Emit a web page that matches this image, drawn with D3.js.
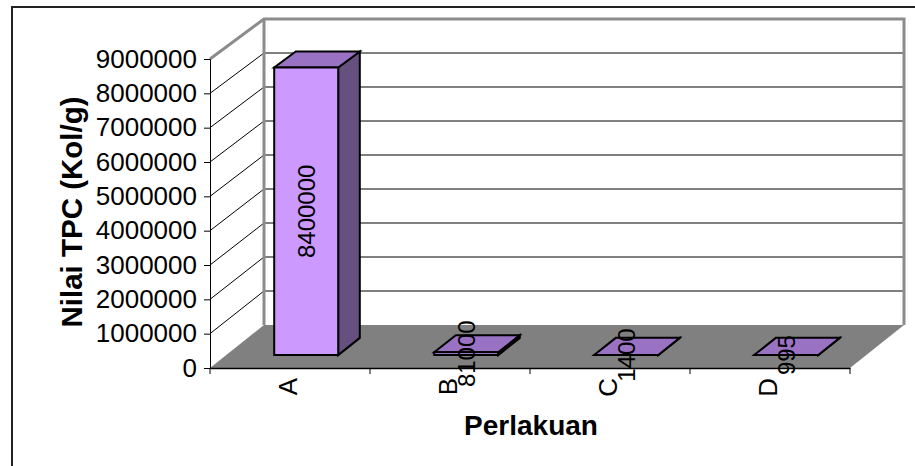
<!DOCTYPE html>
<html>
<head>
<meta charset="utf-8">
<script src="https://cdn.jsdelivr.net/npm/d3@7"></script>
<style>
  html, body { margin: 0; padding: 0; background: #fff; }
  svg { display: block; font-family: Arial, "Liberation Sans", sans-serif; }
</style>
</head>
<body>
<svg id="chart" width="915" height="466"></svg>
<script>
// ---- data ----
const categories = ["A", "B", "C", "D"];
const values = [8400000, 81000, 1400, 995];
const valueLabels = ["8400000", "81000", "1400", "995"];
const yTickValues = [0, 1000000, 2000000, 3000000, 4000000, 5000000, 6000000, 7000000, 8000000, 9000000];
const yTitle = "Nilai TPC (Kol/g)";
const xTitle = "Perlakuan";

// ---- layout ----
const svg = d3.select("#chart");
const DX = 54;               // depth offset in x
const D0 = 0.3, D1 = 0.7;    // bar depth positions
const xBand = d3.scaleBand().domain(categories).range([210, 850]).padding(0);
const yFront = d3.scaleLinear().domain([0, 9000000]).range([368, 59]);
const yBack = d3.scaleLinear().domain([0, 9000000]).range([325, 19]);
const P = (x, v, d) => [x + DX * d, yFront(v) * (1 - d) + yBack(v) * d];
const poly = pts => "M" + pts.map(p => p.join(",")).join("L") + "Z";
const xL = xBand.range()[0], xR = xBand.range()[1];
const vMax = yTickValues[yTickValues.length - 1];

// outer border
svg.append("rect").attr("x", 12).attr("y", 7).attr("width", 1000).attr("height", 1000)
  .attr("fill", "none").attr("stroke", "#222").attr("stroke-width", 2);

// walls
svg.append("path").attr("d", poly([P(xL, 0, 1), P(xR, 0, 1), P(xR, vMax, 1), P(xL, vMax, 1)]))
  .attr("fill", "#fff");
svg.append("path").attr("d", poly([P(xL, 0, 0), P(xL, 0, 1), P(xL, vMax, 1), P(xL, vMax, 0)]))
  .attr("fill", "#fff");

// gridlines (back wall + left wall)
const inner = yTickValues.filter(v => v > 0 && v < vMax);
svg.append("g").selectAll("path").data(inner).join("path")
  .attr("d", v => "M" + P(xL, v, 0).join(",") + "L" + P(xL, v, 1).join(",") + "L" + P(xR, v, 1).join(","))
  .attr("fill", "none").attr("stroke", "#000").attr("stroke-width", 1);

// floor
svg.append("path").attr("d", poly([P(xL, 0, 0), P(xR, 0, 0), P(xR, 0, 1), P(xL, 0, 1)]))
  .attr("fill", "#808080");

// wall edges (gray)
svg.append("path")
  .attr("d", "M" + [P(xL, vMax, 0), P(xL, vMax, 1), P(xR, vMax, 1), P(xR, 0, 1)].map(p => p.join(",")).join("L"))
  .attr("fill", "none").attr("stroke", "#8c8c8c").attr("stroke-width", 3);
svg.append("path")
  .attr("d", "M" + P(xL, vMax, 1).join(",") + "L" + P(xL, 0, 1).join(","))
  .attr("fill", "none").attr("stroke", "#8c8c8c").attr("stroke-width", 3);

// bars
const bw = xBand.bandwidth();
const bars = categories.map((c, i) => {
  const l = xBand(c) + bw * 0.3, r = xBand(c) + bw * 0.7, v = values[i];
  return { c, v, l, r, label: valueLabels[i] };
});
const bg = svg.append("g");
bars.forEach(b => {
  const g = bg.append("g");
  g.append("path").attr("d", poly([P(b.r, 0, D0), P(b.r, 0, D1), P(b.r, b.v, D1), P(b.r, b.v, D0)]))
    .attr("fill", "#665080").attr("stroke", "#000").attr("stroke-width", 2).attr("stroke-linejoin", "miter");
  g.append("path").attr("d", poly([P(b.l, b.v, D0), P(b.r, b.v, D0), P(b.r, b.v, D1), P(b.l, b.v, D1)]))
    .attr("fill", "#9a72c4").attr("stroke", "#000").attr("stroke-width", 2).attr("stroke-linejoin", "miter");
  g.append("path").attr("d", poly([P(b.l, 0, D0), P(b.r, 0, D0), P(b.r, b.v, D0), P(b.l, b.v, D0)]))
    .attr("fill", "#cc99ff").attr("stroke", "#000").attr("stroke-width", 2).attr("stroke-linejoin", "miter");
});

// y axis (front edge)
const yAxis = d3.axisLeft(yFront).tickValues(yTickValues).tickSize(6).tickPadding(7)
  .tickFormat(d3.format("d"));
const ya = svg.append("g").attr("transform", "translate(210,0)").call(yAxis);
ya.select(".domain").attr("stroke", "#000").attr("stroke-width", 1);
ya.selectAll(".tick line").attr("stroke", "#000");
ya.selectAll(".tick text").attr("fill", "#000").style("font-size", "26px")
  .attr("font-family", "Arial, 'Liberation Sans', sans-serif");

// x axis (front floor edge)
const xAxis = d3.axisBottom(xBand).tickSize(0).tickPadding(0);
const xa = svg.append("g").attr("transform", "translate(0,368)").call(xAxis);
xa.select(".domain").attr("stroke", "#000").attr("stroke-width", 1.5);
xa.selectAll(".tick text")
  .attr("transform", "rotate(-90)").attr("x", -10).attr("y", -2).attr("dy", "0.35em")
  .style("text-anchor", "end").style("font-size", "26px").attr("fill", "#000")
  .attr("font-family", "Arial, 'Liberation Sans', sans-serif");
const bounds = categories.map(c => xBand(c)).concat([xR]);
xa.append("g").selectAll("line").data(bounds).join("line")
  .attr("x1", d => d).attr("x2", d => d).attr("y1", 0).attr("y2", 6)
  .attr("stroke", "#000").attr("stroke-width", 1);

// value labels
svg.append("g").selectAll("text").data(bars).join("text")
  .attr("transform", b => {
    const cx = (b.l + b.r) / 2 + DX * D0;
    const cy = (P(b.l, 0, D0)[1] + P(b.l, b.v, D0)[1]) / 2;
    return `translate(${cx},${cy}) rotate(-90)`;
  })
  .attr("text-anchor", "middle").attr("dy", "0.35em")
  .style("font-size", "24px").attr("fill", "#000")
  .text(b => b.label);

// axis titles
svg.append("text").attr("transform", "translate(72,212) rotate(-90)")
  .attr("text-anchor", "middle").attr("dy", "0.35em")
  .style("font-size", "29.5px").style("font-weight", "bold").attr("fill", "#000")
  .text(yTitle);
svg.append("text").attr("x", 531).attr("y", 435)
  .attr("text-anchor", "middle")
  .style("font-size", "28px").style("font-weight", "bold").attr("fill", "#000")
  .text(xTitle);
</script>
</body>
</html>
